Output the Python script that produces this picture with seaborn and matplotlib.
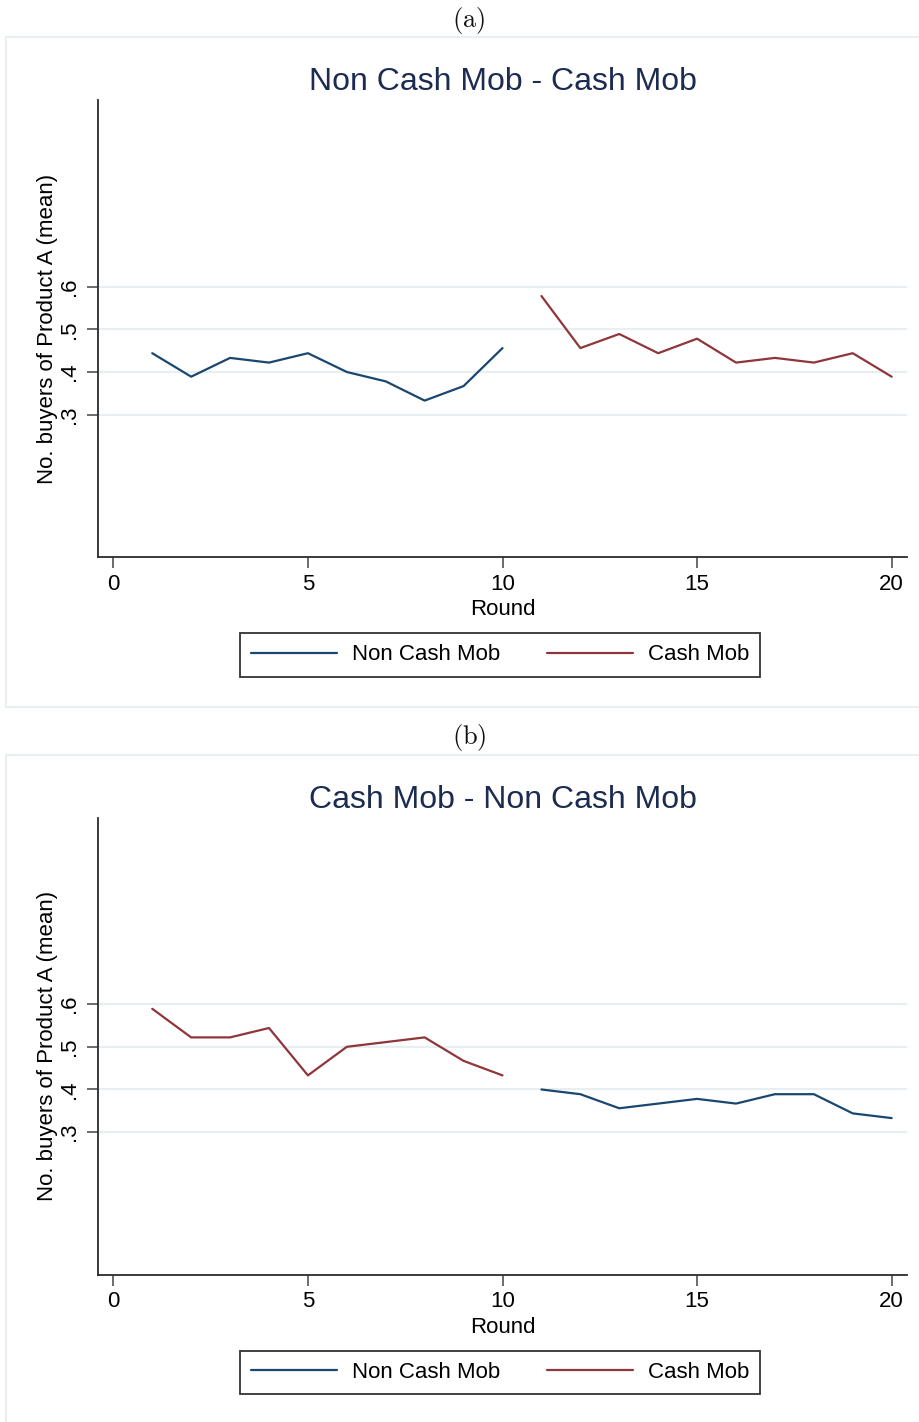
import numpy as np
import pandas as pd
import matplotlib
matplotlib.use("Agg")
import matplotlib.pyplot as plt
from matplotlib.patches import Rectangle
from matplotlib.lines import Line2D
import seaborn as sns

# Mean number of buyers of Product A per round
rounds_first = list(range(1, 11))
rounds_second = list(range(11, 21))

# (a) Non Cash Mob first, then Cash Mob
a_noncash = [0.444, 0.389, 0.433, 0.422, 0.444, 0.400, 0.378, 0.333, 0.367, 0.456]
a_cash = [0.578, 0.456, 0.489, 0.444, 0.478, 0.422, 0.433, 0.422, 0.444, 0.389]

# (b) Cash Mob first, then Non Cash Mob
b_cash = [0.589, 0.522, 0.522, 0.544, 0.433, 0.500, 0.511, 0.522, 0.467, 0.433]
b_noncash = [0.400, 0.389, 0.356, 0.367, 0.378, 0.367, 0.389, 0.389, 0.344, 0.333]

panel_labels = ["(a)", "(b)"]
panel_titles = ["Non Cash Mob - Cash Mob", "Cash Mob - Non Cash Mob"]
series_names = ["Non Cash Mob", "Cash Mob"]
x_ticks = [0, 5, 10, 15, 20]
y_ticks = [0.3, 0.4, 0.5, 0.6]
y_ticklabels = [".3", ".4", ".5", ".6"]

sns.set_theme(style="white")
plt.rcParams["font.family"] = ["Liberation Sans", "DejaVu Sans"]
plt.rcParams["mathtext.fontset"] = "cm"

BLUE = "#1a476f"
RED = "#90353b"
NAVY = "#1c2b50"
GRID = "#e8eff2"
SPINE = "#2b2b2b"

W, H = 920, 1422
fig = plt.figure(figsize=(W / 100, H / 100), dpi=100)
fig.patch.set_facecolor("white")


def fx(px):
    return px / W


def fy(py):
    return 1 - py / H


panels = [
    (pd.DataFrame({"Round": rounds_first, "value": a_noncash}),
     pd.DataFrame({"Round": rounds_second, "value": a_cash})),
    (pd.DataFrame({"Round": rounds_second, "value": b_noncash}),
     pd.DataFrame({"Round": rounds_first, "value": b_cash})),
]

for i, (df_non, df_cash) in enumerate(panels):
    off = i * 717.5

    # light panel frame
    fig.patches.append(Rectangle((fx(6), fy(707 + off)), fx(920) - fx(6), fy(37 + off) - fy(707 + off),
                                 transform=fig.transFigure, facecolor="none",
                                 edgecolor=GRID, linewidth=1.5, zorder=-1))
    fig.text(fx(469), fy(20 + off), r"$\mathrm{" + panel_labels[i] + "}$",
             ha="center", va="center", fontsize=19, color="#111111")

    left, right = 98.3, 906.7
    top, bottom = 100 + off, 557.3 + off
    ax = fig.add_axes([fx(left), fy(bottom), fx(right) - fx(left), fy(top) - fy(bottom)])
    ax.set_facecolor("none")

    sns.lineplot(data=df_non, x="Round", y="value", ax=ax, color=BLUE, linewidth=1.6)
    sns.lineplot(data=df_cash, x="Round", y="value", ax=ax, color=RED, linewidth=1.6)

    ax.set_xlim(-0.386, 20.386)
    ax.set_ylim(-0.034, 1.037)
    ax.set_xticks(x_ticks)
    ax.set_yticks(y_ticks)
    ax.set_yticklabels(y_ticklabels, rotation=90, va="center")
    ax.tick_params(axis="both", direction="out", length=8, width=1.1, color="#444444",
                   labelsize=16, labelcolor="black")
    ax.tick_params(axis="x", bottom=True, pad=4)
    ax.tick_params(axis="y", left=True, pad=5)
    ax.yaxis.grid(True, color=GRID, linewidth=1.6)
    ax.xaxis.grid(False)
    ax.set_axisbelow(True)
    for s in ["top", "right"]:
        ax.spines[s].set_visible(False)
    for s in ["left", "bottom"]:
        ax.spines[s].set_visible(True)
        ax.spines[s].set_color(SPINE)
        ax.spines[s].set_linewidth(1.3)

    ax.set_xlabel("Round", fontsize=16, color="black", labelpad=3)
    ax.set_ylabel("No. buyers of Product A (mean)", fontsize=16, color="black", labelpad=1)
    ax.set_title(panel_titles[i], fontsize=23, color=NAVY, pad=0, y=1.0 + 10 / (bottom - top))

    handles = [Line2D([0], [0], color=BLUE, linewidth=1.6),
               Line2D([0], [0], color=RED, linewidth=1.6)]
    leg = fig.legend(handles, series_names, loc="center",
                     bbox_to_anchor=(fx(500), fy(655 + off)), ncol=2, frameon=True,
                     fontsize=16, handlelength=3.9, handletextpad=0.65, columnspacing=2.1,
                     borderpad=0.5, borderaxespad=0, fancybox=False)
    for t in leg.get_texts():
        t.set_color("black")
    frame = leg.get_frame()
    frame.set_edgecolor("#333333")
    frame.set_linewidth(1.3)
    frame.set_facecolor("white")
    frame.set_alpha(1)

fig.savefig("out.png", dpi=100, facecolor="white")
